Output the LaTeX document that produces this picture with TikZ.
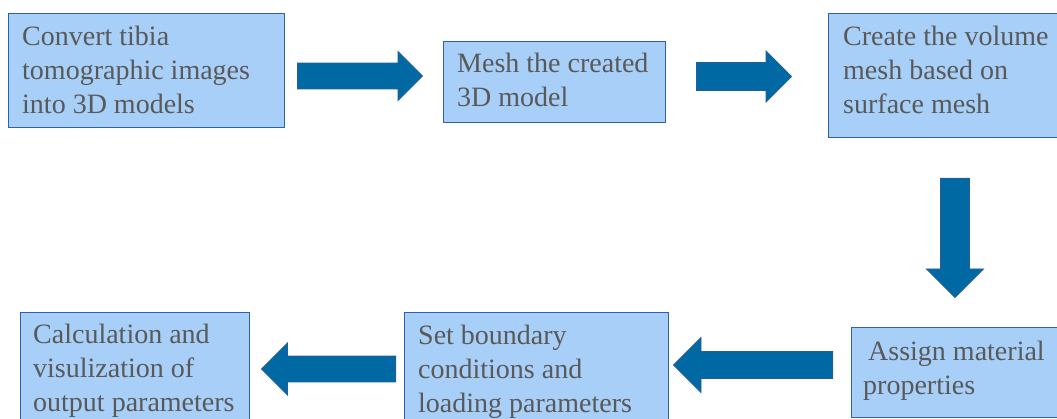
\documentclass[tikz,border=0pt]{standalone}
\usepackage{fontspec}
\setmainfont{Liberation Serif}
\usetikzlibrary{shapes.arrows,calc}
\definecolor{boxfill}{HTML}{A7CFF7}
\definecolor{boxline}{HTML}{2E62A6}
\definecolor{arrfill}{HTML}{0069A4}
\definecolor{arrline}{HTML}{245E98}
\definecolor{txtcol}{HTML}{595959}
\newcommand{\boxlines}[1]{\parbox[t]{260pt}{\raggedright #1}}
\tikzset{
  stepbox/.style={draw=boxline, fill=boxfill, line width=1.3pt, anchor=north west, inner sep=0pt},
  lbl/.style={anchor=base west, inner sep=0pt, text=txtcol, font=\fontsize{28}{34}\selectfont},
  blockarrow/.style={single arrow, draw=arrline, fill=arrfill, line width=0.9pt,
    inner xsep=0pt, anchor=tail, single arrow tip angle=90},
}
\begin{document}
\begin{tikzpicture}[x=1pt,y=1pt]
\useasboundingbox (0,0) rectangle (1057,418);
\clip (0,0) rectangle (1057,418);
% boxes
\node[stepbox, minimum width=276, minimum height=114] (b1) at (8,405) {};
\node[stepbox, minimum width=222, minimum height=81] (b2) at (443,377) {};
\node[stepbox, minimum width=245, minimum height=124] (b3) at (828,405) {};
\node[stepbox, minimum width=222, minimum height=90] (b4) at (851,91) {};
\node[stepbox, minimum width=264, minimum height=120] (b5) at (404,106) {};
\node[stepbox, minimum width=229, minimum height=120] (b6) at (20,106) {};
% texts
\node[lbl] (t1) at (22,372) {\boxlines{Convert tibia\\tomographic images\\into 3D models}};
\node[lbl] (t2) at (457,345) {\boxlines{Mesh the created\\3D model}};
\node[lbl] (t3) at (843,372) {\boxlines{Create the volume\\mesh based on\\surface mesh}};
\node[lbl] (t4) at (863,58) {\boxlines{\hspace*{5pt}Assign material\\properties}};
\node[lbl] (t5) at (418,74) {\boxlines{Set boundary\\conditions and\\loading parameters}};
\node[lbl] (t6) at (33,75) {\boxlines{Calculation and\\visulization of\\output parameters}};
% block arrows
\node[blockarrow, minimum height=125, inner ysep=12.5pt, single arrow head extend=11.5pt] (a1) at (297,342) {};
\node[blockarrow, minimum height=95, inner ysep=13.5pt, single arrow head extend=11.5pt] (a2) at (696,341.5) {};
\node[blockarrow, minimum height=119, inner xsep=14pt, inner ysep=0pt, single arrow head extend=14pt, shape border rotate=270] (a3) at (955,240) {};
\node[blockarrow, minimum height=159, inner ysep=13pt, single arrow head extend=14pt, shape border rotate=180] (a4) at (833,53) {};
\node[blockarrow, minimum height=134, inner ysep=12.5pt, single arrow head extend=13pt, shape border rotate=180] (a5) at (396,49) {};
\end{tikzpicture}
\end{document}
